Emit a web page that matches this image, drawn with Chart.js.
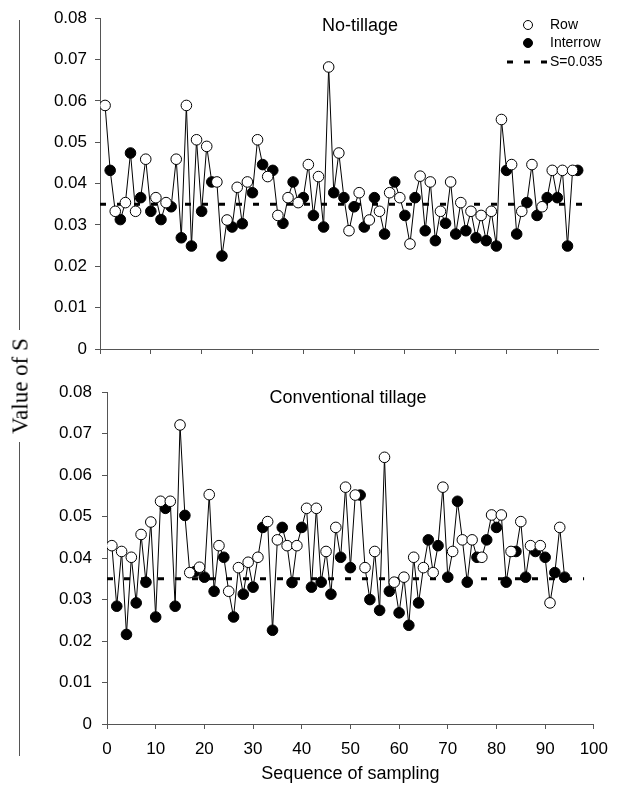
<!DOCTYPE html>
<html>
<head>
<meta charset="utf-8">
<title>Value of S</title>
<script src="https://cdn.jsdelivr.net/npm/chart.js@4.4.0/dist/chart.umd.min.js"></script>
<style>
   body { margin: 0; background: #fff; font-family: "Liberation Sans", Arial, sans-serif; }
   #wrap { position: relative; width: 618px; height: 785px; overflow: hidden; }
   canvas { position: absolute; left: 0; }
   #topChart { top: 0; }
   #bottomChart { top: 372px; }
   .panel-title { position: absolute; font-size: 18px; color: #000; transform: translateX(-50%); white-space: nowrap; line-height: 1; }
   #ylabel { position: absolute; left: 20px; top: 386px; font-family: "Liberation Serif", "Times New Roman", serif; font-size: 23px; white-space: nowrap; transform: translate(-50%, -50%) rotate(-90deg); line-height: 1; }
   .yline { position: absolute; left: 19px; width: 1px; background: #555; }
   #legend { position: absolute; left: 500px; top: 14px; font-size: 14px; }
   #legend .item { position: absolute; left: 50px; white-space: nowrap; line-height: 1; }
   #legend svg { position: absolute; left: 0; top: 0; }
</style>
</head>
<body>
<div id="wrap">
   <canvas id="topChart" width="618" height="372"></canvas>
   <canvas id="bottomChart" width="618" height="413"></canvas>

   <div class="panel-title" style="left:360px; top:16px;">No-tillage</div>
   <div class="panel-title" style="left:348px; top:388px;">Conventional tillage</div>

   <div class="yline" style="top:20px; height:310px;"></div>
   <div class="yline" style="top:442px; height:314px;"></div>
   <div id="ylabel">Value of S</div>

   <div id="legend">
      <svg width="50" height="60">
         <circle cx="28" cy="11" r="4.5" fill="#fff" stroke="#000" stroke-width="1"></circle>
         <circle cx="28" cy="29" r="4.5" fill="#000" stroke="#000" stroke-width="1"></circle>
         <line x1="7" y1="48" x2="48" y2="48" stroke="#000" stroke-width="3" stroke-dasharray="6 11"></line>
      </svg>
      <div class="item" style="top:3px;">Row</div>
      <div class="item" style="top:21px;">Interrow</div>
      <div class="item" style="top:40px;">S=0.035</div>
   </div>
</div>

<script>
// Sequence numbers of the samples (row = odd, interrow = even)
const rowSeq = [1, 3, 5, 7, 9, 11, 13, 15, 17, 19, 21, 23, 25, 27, 29, 31, 33, 35, 37, 39, 41, 43, 45, 47,
   49, 51, 53, 55, 57, 59, 61, 63, 65, 67, 69, 71, 73, 75, 77, 79, 81, 83, 85, 87, 89, 91, 93];
const interSeq = [2, 4, 6, 8, 10, 12, 14, 16, 18, 20, 22, 24, 26, 28, 30, 32, 34, 36, 38, 40, 42, 44, 46, 48,
   50, 52, 54, 56, 58, 60, 62, 64, 66, 68, 70, 72, 74, 76, 78, 80, 82, 84, 86, 88, 90, 92, 94];

// No-tillage
const rowNT = [0.0589, 0.0333, 0.0354, 0.0333, 0.0459, 0.0366, 0.0354, 0.0459, 0.0589, 0.0506, 0.0490, 0.0404,
   0.0312, 0.0391, 0.0404, 0.0506, 0.0417, 0.0323, 0.0366, 0.0354, 0.0446, 0.0417, 0.0682, 0.0474,
   0.0286, 0.0378, 0.0312, 0.0333, 0.0378, 0.0366, 0.0254, 0.0418, 0.0404, 0.0333, 0.0404, 0.0354,
   0.0333, 0.0323, 0.0333, 0.0555, 0.0446, 0.0333, 0.0446, 0.0344, 0.0432, 0.0432, 0.0432];
const interNT = [0.0432, 0.0313, 0.0474, 0.0366, 0.0333, 0.0313, 0.0344, 0.0269, 0.0249, 0.0333, 0.0404, 0.0225,
   0.0295, 0.0303, 0.0378, 0.0446, 0.0432, 0.0304, 0.0404, 0.0366, 0.0323, 0.0295, 0.0378, 0.0366,
   0.0344, 0.0295, 0.0366, 0.0278, 0.0404, 0.0323, 0.0366, 0.0286, 0.0262, 0.0304, 0.0278, 0.0286,
   0.0269, 0.0262, 0.0249, 0.0432, 0.0278, 0.0354, 0.0323, 0.0366, 0.0366, 0.0249, 0.0432];

// Conventional tillage
const rowCT = [0.0430, 0.0416, 0.0402, 0.0457, 0.0487, 0.0537, 0.0537, 0.0721, 0.0365, 0.0378, 0.0553, 0.0430,
   0.0320, 0.0377, 0.0390, 0.0402, 0.0488, 0.0444, 0.0430, 0.0430, 0.0520, 0.0520, 0.0416, 0.0474,
   0.0571, 0.0552, 0.0377, 0.0416, 0.0643, 0.0342, 0.0354, 0.0402, 0.0377, 0.0365, 0.0571, 0.0416,
   0.0444, 0.0444, 0.0402, 0.0504, 0.0504, 0.0416, 0.0488, 0.0430, 0.0430, 0.0292, 0.0474];
const interCT = [0.0284, 0.0216, 0.0292, 0.0342, 0.0258, 0.0520, 0.0284, 0.0503, 0.0367, 0.0354, 0.0320, 0.0402,
   0.0258, 0.0313, 0.0330, 0.0474, 0.0226, 0.0474, 0.0341, 0.0474, 0.0330, 0.0342, 0.0313, 0.0402,
   0.0377, 0.0552, 0.0300, 0.0274, 0.0320, 0.0268, 0.0238, 0.0292, 0.0444, 0.0430, 0.0354, 0.0537,
   0.0342, 0.0402, 0.0444, 0.0474, 0.0342, 0.0416, 0.0354, 0.0416, 0.0402, 0.0365, 0.0354];

const threshold = 0.035;
const yTicks = [0, 0.01, 0.02, 0.03, 0.04, 0.05, 0.06, 0.07, 0.08];
const xTicks = [0, 10, 20, 30, 40, 50, 60, 70, 80, 90, 100];

Chart.defaults.font.family = '"Liberation Sans", Arial, sans-serif';
Chart.defaults.color = "#000";

function buildSeries(rows, inters) {
   const rowPts = rows.map((v, i) => ({ x: rowSeq[i], y: v }));
   const interPts = inters.map((v, i) => ({ x: interSeq[i], y: v }));
   const all = rowPts.concat(interPts).sort((a, b) => a.x - b.x);
   return { rowPts, interPts, all };
}

function makePanel(id, rows, inters, cfg) {
   const s = buildSeries(rows, inters);
   const axisColor = "#555";
   return new Chart(document.getElementById(id), {
      type: "scatter",
      data: {
         datasets: [
            {
               label: "Row",
               data: s.rowPts,
               order: 0,
               pointRadius: 5.3,
               pointBackgroundColor: "#fff",
               pointBorderColor: "#000",
               pointBorderWidth: 1,
               showLine: false,
            },
            {
               label: "Interrow",
               data: s.interPts,
               order: 1,
               pointRadius: 5.3,
               pointBackgroundColor: "#000",
               pointBorderColor: "#000",
               pointBorderWidth: 1,
               showLine: false,
            },
            {
               label: "sequence",
               data: s.all,
               order: 2,
               showLine: true,
               pointRadius: 0,
               borderColor: "#000",
               borderWidth: 1,
            },
            {
               label: "S=0.035",
               data: [{ x: 0, y: threshold }, { x: cfg.dashEnd, y: threshold }],
               order: 3,
               showLine: true,
               pointRadius: 0,
               borderColor: "#000",
               borderWidth: 3,
               borderDash: [6, 11],
            },
         ],
      },
      options: {
         responsive: false,
         animation: false,
         events: [],
         layout: { padding: { top: cfg.padTop, right: 20, left: 0, bottom: 0 } },
         plugins: {
            legend: { display: false },
            tooltip: { enabled: false },
         },
         scales: {
            x: {
               type: "linear",
               min: 0,
               max: cfg.xMax,
               afterBuildTicks: (scale) => {
                  scale.ticks = xTicks.filter((v) => v <= cfg.xMax).map((v) => ({ value: v }));
               },
               afterFit: (scale) => {
                  scale.height = cfg.xHeight;
               },
               grid: { drawOnChartArea: false, drawTicks: true, tickLength: 5, color: axisColor },
               border: { color: axisColor, width: 1 },
               ticks: {
                  display: cfg.xLabels,
                  font: { size: 17 },
                  padding: 10,
                  maxRotation: 0,
                  autoSkip: false,
               },
               title: {
                  display: cfg.xLabels,
                  text: "Sequence of sampling",
                  font: { size: 18 },
                  padding: { top: 0, bottom: 0 },
               },
            },
            y: {
               min: 0,
               max: 0.08,
               afterBuildTicks: (scale) => {
                  scale.ticks = yTicks.map((v) => ({ value: v }));
               },
               afterFit: (scale) => {
                  scale.width = cfg.yWidth;
               },
               grid: { drawOnChartArea: false, drawTicks: true, tickLength: 5, color: axisColor },
               border: { color: axisColor, width: 1 },
               ticks: {
                  font: { size: 17 },
                  padding: cfg.yPad,
                  callback: (v) => (v === 0 ? "0" : v.toFixed(2)),
               },
            },
         },
      },
   });
}

makePanel("topChart", rowNT, interNT, {
   padTop: 18, xMax: 98, xHeight: 23, yWidth: 100, yPad: 8, xLabels: false, dashEnd: 96.5,
});
makePanel("bottomChart", rowCT, interCT, {
   padTop: 19, xMax: 100, xHeight: 61, yWidth: 107, yPad: 10, xLabels: true, dashEnd: 98,
});
</script>
</body>
</html>
